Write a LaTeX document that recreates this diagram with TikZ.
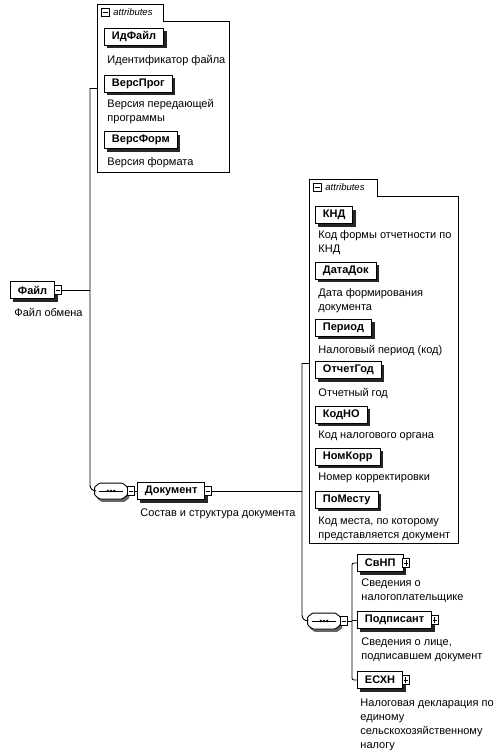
\documentclass[tikz,border=0pt]{standalone}
\usepackage{fontspec}
\setmainfont{Liberation Sans}
\usetikzlibrary{shadows}

% octagon of a sequence symbol round node #1, shifted by (#2,#3)
\newcommand\seqoct[3]{([shift={(5pt+#2,#3)}]#1.north west) -- ([shift={(-5pt+#2,#3)}]#1.north east)
    -- ([shift={(#2,-4pt+#3)}]#1.north east) -- ([shift={(#2,4pt+#3)}]#1.south east)
    -- ([shift={(-5pt+#2,#3)}]#1.south east) -- ([shift={(5pt+#2,#3)}]#1.south west)
    -- ([shift={(#2,4pt+#3)}]#1.south west) -- ([shift={(#2,-4pt+#3)}]#1.north west) -- cycle}
\newcommand\seqsymbol[1]{%
    \fill[black!60,rounded corners=1pt] \seqoct{#1}{2pt}{-3pt};
    \draw[fill=white,rounded corners=1pt] \seqoct{#1}{0pt}{0pt};
    \draw[line width=0.7pt] ([xshift=4pt]#1.west) -- ([xshift=-4pt]#1.east);
    \foreach \d in {-3.2,0,3.2} \fill ([xshift=\d pt]#1.center) circle (1.4pt);}

\begin{document}
\begin{tikzpicture}[x=1pt,y=-1pt,line width=0.9pt,
    every node/.style={font=\fontsize{11}{14}\selectfont},
    box/.style={draw,fill=white,font=\fontsize{11}{14}\selectfont\bfseries,minimum height=17pt,inner xsep=7.5pt,inner ysep=0pt,anchor=west,
        general shadow={shadow xshift=3pt,shadow yshift=-3pt,fill=black!85}},
    desc/.style={align=left,anchor=north west,inner sep=0pt},
    xicon/.style={draw,fill=white,minimum width=7pt,minimum height=9pt,inner sep=0pt,line width=0.6pt},
    minusicon/.style={xicon,path picture={\draw[line width=0.6pt] ([xshift=1.5pt]path picture bounding box.west) -- ([xshift=-1.5pt]path picture bounding box.east);}},
    plusicon/.style={xicon,path picture={\draw[line width=0.6pt] ([xshift=1.5pt]path picture bounding box.west) -- ([xshift=-1.5pt]path picture bounding box.east) ([yshift=1.5pt]path picture bounding box.south) -- ([yshift=-1.5pt]path picture bounding box.north);}},
    seqsym/.style={minimum width=32pt,minimum height=15pt,inner sep=0pt},
    tabtext/.style={font=\fontsize{9.5}{11}\selectfont\itshape,anchor=west,inner sep=0pt}]
    \useasboundingbox (0,0) rectangle (499,753);

    % attributes of Файл
    \draw (97,172) -- (97,4) -- (163,4) -- (163,21) -- (229,21) -- (229,172) -- cycle;
    \node[minusicon,minimum height=8pt,minimum width=8pt] (tabx1) at (105,12.5) {};
    \node[tabtext] (tab1) at (113,12.5) {attributes};
    \node[box] (idf) at (104,36.5) {ИдФайл};
    \node[desc] (idfd) at (107,54.5) {Идентификатор файла};
    \node[box] (vprog) at (104,83.5) {ВерсПрог};
    \node[desc] (vprogd) at (107,98.5) {Версия передающей\\программы};
    \node[box] (vform) at (104,140) {ВерсФорм};
    \node[desc] (vformd) at (107,157.5) {Версия формата};

    \node[box] (fayl) at (10,290) {Файл};
    \node[minusicon] (faylx) at ([xshift=2.5pt]fayl.east) {};
    \node[desc] (fayld) at (14,307.5) {Файл обмена};

    \node[seqsym] (seq1) at (111,491) {};
    \seqsymbol{seq1}
    \node[minusicon] (seq1x) at ([xshift=3.5pt]seq1.east) {};
    \node[box] (dok) at (137,491) {Документ};
    \node[minusicon] (dokx) at ([xshift=2.5pt]dok.east) {};
    \node[desc] (dokd) at (140,508.5) {Состав и структура документа};

    % attributes of Документ
    \draw (309,543) -- (309,179) -- (377,179) -- (377,196) -- (458,196) -- (458,543) -- cycle;
    \node[minusicon,minimum height=8pt,minimum width=8pt] (tabx2) at (317,187.5) {};
    \node[tabtext] (tab2) at (325,187.5) {attributes};
    \foreach \nm/\txt/\yy in {knd/КНД/215,datadok/ДатаДок/270.5,period/Период/327.5,otchgod/ОтчетГод/370,
        kodno/КодНО/414.5,nomkorr/НомКорр/456.5,pomestu/ПоМесту/499.5}
        \node[box] (\nm) at (315,\yy) {\txt};
    \node[desc] (kndd) at (318,230.5) {Код формы отчетности по\\КНД};
    \node[desc] (datadokd) at (318,288.5) {Дата формирования\\документа};
    \node[desc] (periodd) at (318,344.5) {Налоговый период (код)};
    \node[desc] (otchgodd) at (318,387.5) {Отчетный год};
    \node[desc] (kodnod) at (318,430.5) {Код налогового органа};
    \node[desc] (nomkorrd) at (318,472.5) {Номер корректировки};
    \node[desc] (pomestud) at (318,516.5) {Код места, по которому\\представляется документ};

    \node[seqsym] (seq2) at (324,621) {};
    \seqsymbol{seq2}
    \node[minusicon] (seq2x) at ([xshift=3.5pt]seq2.east) {};
    \node[box] (svnp) at (357,563) {СвНП};
    \node[plusicon] (svnpx) at ([xshift=2.5pt]svnp.east) {};
    \node[desc] (svnpd) at (361,578.5) {Сведения о\\налогоплательщике};
    \node[box] (podp) at (357,620) {Подписант};
    \node[plusicon] (podpx) at ([xshift=2.5pt]podp.east) {};
    \node[desc] (podpd) at (361,637.5) {Сведения о лице,\\подписавшем документ};
    \node[box] (esxn) at (357,680) {ЕСХН};
    \node[plusicon] (esxnx) at ([xshift=2.5pt]esxn.east) {};
    \node[desc] (esxnd) at (360,698.5) {Налоговая декларация по\\единому\\сельскохозяйственному\\налогу};

    \coordinate (g1) at (97,88);
    \coordinate (bus1) at (90,88);
    \coordinate (g2) at (309,363);
    \coordinate (bus2) at (302,363);
    \coordinate (bus3) at (352,563);

    \draw (g1) -- (bus1);
    \draw[rounded corners=6pt] (bus1) |- (seq1.west);
    \draw (faylx.east) -- (faylx.east -| bus1);
    \draw (seq1x.east) -- (dok.west);
    \draw (g2) -- (bus2);
    \draw[rounded corners=6pt] (bus2) |- (seq2.west);
    \draw (dokx.east) -- (dokx.east -| bus2);
    \draw (seq2x.east) -- (seq2x.east -| bus3);
    \draw[rounded corners=2pt] (svnp.west) -- (bus3) |- (esxn.west);
    \draw (podp.west) -- (podp.west -| bus3);
\end{tikzpicture}
\end{document}
